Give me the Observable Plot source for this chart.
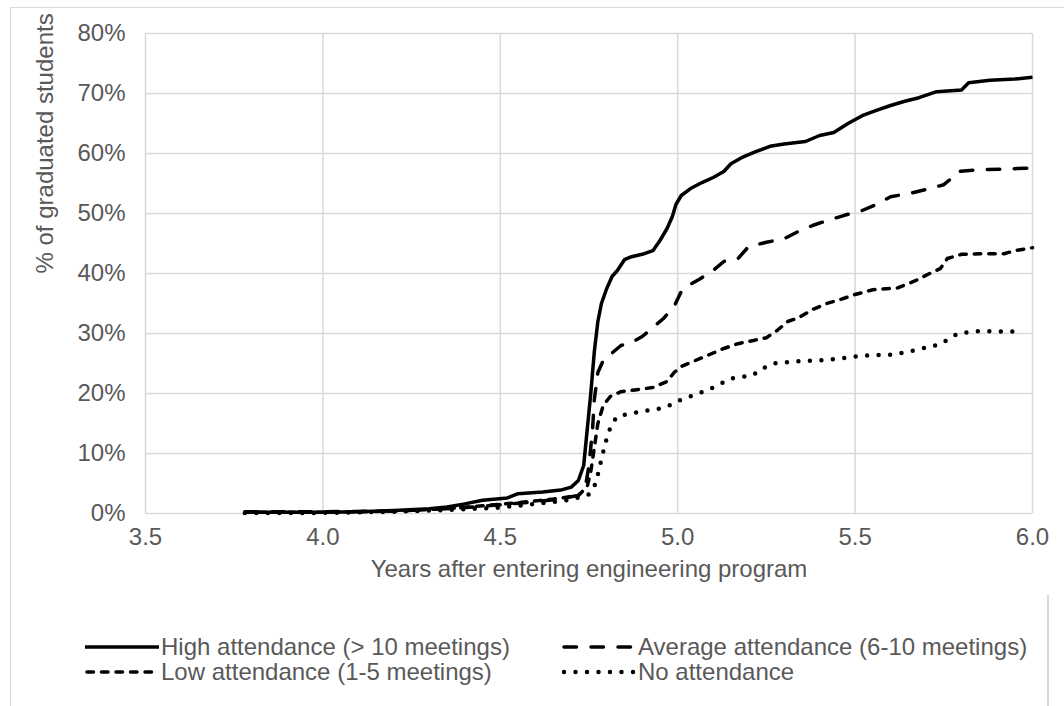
<!DOCTYPE html>
<html><head><meta charset="utf-8">
<script src="https://cdn.jsdelivr.net/npm/d3@7"></script>
<script src="https://cdn.jsdelivr.net/npm/@observablehq/plot@0.6"></script>
<style>
html,body{margin:0;padding:0;background:#fff;overflow:hidden;width:1064px;height:706px;}
body{font-family:"Liberation Sans",Arial,sans-serif;position:relative;}
#frame{position:absolute;left:10px;top:7px;width:1100px;height:800px;border:1.5px solid #d9d9d9;box-sizing:border-box;}
#rline{position:absolute;left:1047px;top:595px;width:1.5px;height:120px;background:#d9d9d9;}
#chart{position:absolute;left:0;top:0;}
#legend{position:absolute;left:85px;top:634px;display:grid;grid-template-columns:477px 480px;grid-auto-rows:25px;color:#595959;font-size:24px;line-height:25px;}
.item{display:flex;align-items:center;white-space:nowrap;}
.item svg{margin-right:2px;flex:none;}
</style></head>
<body>
<div id="frame"></div>
<div id="rline"></div>
<div id="chart"></div>
<div id="legend"></div>
<script>
const seriesNames = ["High attendance (> 10 meetings)", "Average attendance (6-10 meetings)", "Low attendance (1-5 meetings)", "No attendance"];
const seriesDash = ["none", "12.5,14.5", "6.5,8", "0,11.5"];
const seriesWidth = [3.5, 3.5, 3.5, 4.5];

const highYears = [3.78, 4.0, 4.1, 4.2, 4.3, 4.35, 4.4, 4.45, 4.52, 4.55, 4.62, 4.67, 4.7, 4.72, 4.735, 4.745, 4.755, 4.765, 4.775, 4.785, 4.8, 4.815, 4.83, 4.85, 4.87, 4.9, 4.93, 4.95, 4.97, 4.985, 4.995, 5.01, 5.04, 5.07, 5.1, 5.13, 5.15, 5.18, 5.22, 5.26, 5.3, 5.36, 5.4, 5.44, 5.48, 5.52, 5.56, 5.6, 5.64, 5.68, 5.73, 5.8, 5.82, 5.88, 5.95, 6.0];
const highPct = [0.2, 0.2, 0.3, 0.5, 0.8, 1.1, 1.6, 2.2, 2.6, 3.3, 3.6, 3.9, 4.4, 5.5, 8, 14, 20, 27, 32, 35, 37.5, 39.5, 40.5, 42.3, 42.8, 43.2, 43.8, 45.5, 47.5, 49.5, 51.5, 53, 54.3, 55.2, 56, 57, 58.3, 59.3, 60.3, 61.2, 61.6, 62, 63, 63.5, 65, 66.3, 67.2, 68, 68.7, 69.3, 70.3, 70.6, 71.8, 72.2, 72.4, 72.7];

const avgYears = [3.78, 4.0, 4.2, 4.35, 4.45, 4.55, 4.65, 4.72, 4.74, 4.75, 4.76, 4.765, 4.775, 4.79, 4.81, 4.84, 4.87, 4.9, 4.93, 4.96, 4.99, 5.01, 5.03, 5.06, 5.1, 5.13, 5.17, 5.2, 5.25, 5.3, 5.34, 5.38, 5.42, 5.47, 5.52, 5.56, 5.6, 5.65, 5.7, 5.75, 5.77, 5.79, 5.85, 5.92, 6.0];
const avgPct = [0.3, 0.3, 0.4, 0.8, 1.2, 1.7, 2.3, 3, 4.5, 8, 14, 19, 23.5, 25.5, 26.5, 28, 28.5, 29.5, 31, 32.5, 34.5, 37, 38, 39, 40.5, 42, 42.5, 44.5, 45.2, 45.8, 47, 48, 48.8, 49.7, 50.5, 51.5, 52.8, 53.3, 54, 54.8, 55.8, 57, 57.3, 57.4, 57.6];

const lowYears = [3.78, 4.0, 4.2, 4.35, 4.45, 4.55, 4.65, 4.72, 4.745, 4.755, 4.765, 4.775, 4.79, 4.81, 4.84, 4.88, 4.93, 4.97, 4.99, 5.01, 5.05, 5.09, 5.13, 5.17, 5.21, 5.25, 5.28, 5.31, 5.34, 5.38, 5.42, 5.46, 5.5, 5.55, 5.62, 5.67, 5.71, 5.74, 5.76, 5.8, 5.86, 5.92, 5.95, 6.0];
const lowPct = [0.2, 0.2, 0.4, 0.8, 1.3, 1.8, 2.4, 3, 4.5, 7, 11, 15, 18, 19.5, 20.3, 20.6, 21, 22, 23.5, 24.5, 25.5, 26.5, 27.5, 28.3, 28.8, 29.3, 30.5, 32, 32.6, 34, 35, 35.7, 36.5, 37.3, 37.6, 38.8, 40, 40.8, 42.5, 43.2, 43.3, 43.3, 43.8, 44.3];

const noneYears = [3.78, 4.0, 4.2, 4.4, 4.5, 4.6, 4.7, 4.75, 4.765, 4.775, 4.785, 4.795, 4.805, 4.815, 4.83, 4.86, 4.9, 4.95, 4.99, 5.01, 5.05, 5.1, 5.15, 5.21, 5.24, 5.27, 5.32, 5.42, 5.48, 5.52, 5.61, 5.675, 5.74, 5.77, 5.79, 5.85, 5.97];
const nonePct = [0.1, 0.1, 0.3, 0.7, 1, 1.6, 2.3, 3.2, 4.5, 6.5, 9, 11.5, 13.5, 15, 16.2, 16.6, 17, 17.5, 18.3, 19, 19.8, 21, 22.5, 23, 24.2, 25, 25.3, 25.6, 26, 26.3, 26.5, 27.3, 28.2, 29.3, 30, 30.4, 30.3];

const xTicks = [3.5, 4.0, 4.5, 5.0, 5.5, 6.0];
const yTicks = [0, 10, 20, 30, 40, 50, 60, 70, 80];
const xTitle = "Years after entering engineering program";
const yTitle = "% of graduated students";

const allYears = [highYears, avgYears, lowYears, noneYears];
const allPct = [highPct, avgPct, lowPct, nonePct];
const rows = allYears.map((ys, i) => ys.map((x, j) => ({series: seriesNames[i], x, y: allPct[i][j]})));

const gray = "#595959";
const fs = 24;
const chart = Plot.plot({
  width: 1064, height: 600,
  marginLeft: 145, marginRight: 32, marginTop: 33, marginBottom: 87,
  style: {fontFamily: '"Liberation Sans", Arial, sans-serif', background: "transparent", overflow: "visible"},
  x: {domain: [3.5, 6.0]},
  y: {domain: [0, 80]},
  marks: [
    Plot.gridX(xTicks, {stroke: "#d9d9d9", strokeOpacity: 1, strokeWidth: 1.5}),
    Plot.gridY(yTicks, {stroke: "#d9d9d9", strokeOpacity: 1, strokeWidth: 1.5}),
    Plot.axisX(xTicks, {tickSize: 0, tickPadding: 14, tickFormat: d3.format(".1f"), fontSize: fs, fill: gray, label: null}),
    Plot.axisY(yTicks, {tickSize: 0, tickPadding: 20, tickFormat: d => d + "%", fontSize: fs, fill: gray, label: null}),
    ...rows.map((r, i) => Plot.line(r, {x: "x", y: "y", stroke: "black", strokeWidth: seriesWidth[i], strokeDasharray: seriesDash[i], strokeLinecap: i === 0 ? "butt" : "round", strokeLinejoin: "round"})),
    Plot.text([xTitle], {frameAnchor: "bottom", dy: 63, fontSize: fs, fill: gray}),
    Plot.text([yTitle], {frameAnchor: "left", dx: -100, rotate: -90, fontSize: fs, fill: gray})
  ]
});
document.getElementById("chart").appendChild(chart);

const legend = document.getElementById("legend");
[0, 1, 2, 3].forEach(i => {
  const item = document.createElement("div");
  item.className = "item";
  const ns = "http://www.w3.org/2000/svg";
  const s = document.createElementNS(ns, "svg");
  s.setAttribute("width", 74); s.setAttribute("height", 12);
  const l = document.createElementNS(ns, "line");
  l.setAttribute("x1", i === 0 ? 0 : 2); l.setAttribute("x2", i === 0 ? 74 : 72);
  l.setAttribute("y1", 6); l.setAttribute("y2", 6);
  l.setAttribute("stroke", "black");
  l.setAttribute("stroke-width", seriesWidth[i]);
  if (seriesDash[i] !== "none") l.setAttribute("stroke-dasharray", seriesDash[i]);
  l.setAttribute("stroke-linecap", i === 0 ? "butt" : "round");
  s.appendChild(l);
  item.appendChild(s);
  const t = document.createElement("span");
  t.textContent = seriesNames[i];
  item.appendChild(t);
  legend.appendChild(item);
});
</script>
</body></html>
